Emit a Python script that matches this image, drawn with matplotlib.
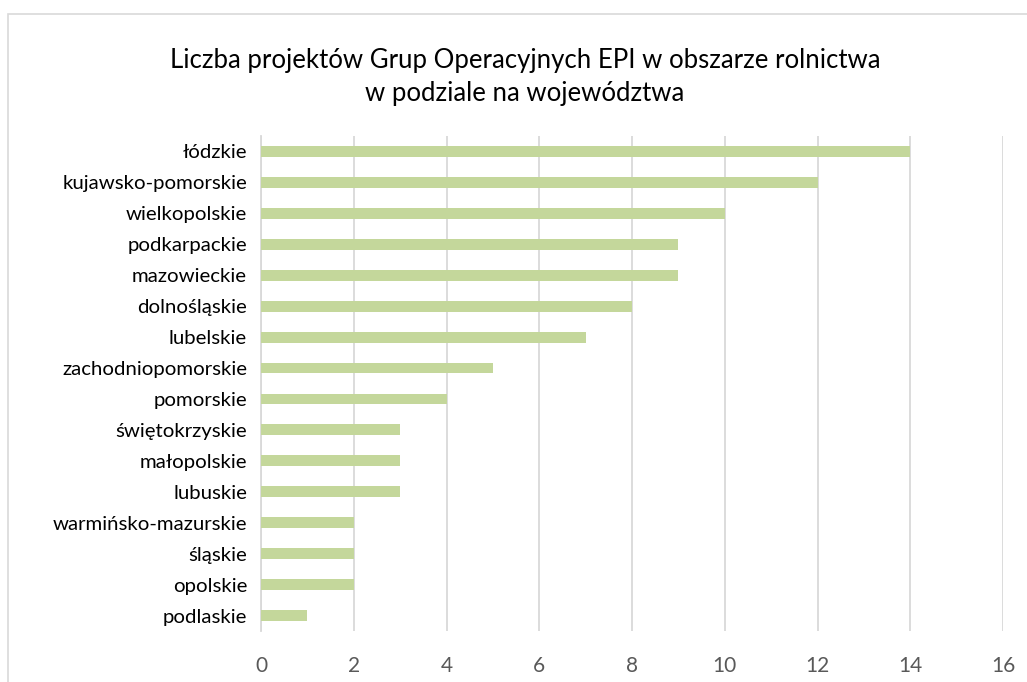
import matplotlib
matplotlib.use("Agg")
import matplotlib.pyplot as plt
from matplotlib.patches import Rectangle

categories = ["łódzkie", "kujawsko-pomorskie", "wielkopolskie", "podkarpackie",
              "mazowieckie", "dolnośląskie", "lubelskie", "zachodniopomorskie",
              "pomorskie", "świętokrzyskie", "małopolskie", "lubuskie",
              "warmińsko-mazurskie", "śląskie", "opolskie", "podlaskie"]
values = [14, 12, 10, 9, 9, 8, 7, 5, 4, 3, 3, 3, 2, 2, 2, 1]
xticks = [0, 2, 4, 6, 8, 10, 12, 14, 16]
title = "Liczba projektów Grup Operacyjnych EPI w obszarze rolnictwa\nw podziale na województwa"

plt.rcParams['font.family'] = ['Lato', 'DejaVu Sans']

fig = plt.figure(figsize=(10.27, 6.82), dpi=100)
fig.patches.append(Rectangle((7.5/1027, -0.1), 1.2, (682-14)/682 + 0.1,
                             transform=fig.transFigure, fill=False,
                             edgecolor='#D9D9D9', linewidth=1.2))
ax = fig.add_axes([261/1027, 1-631/682, (1003-261)/1027, (631-136)/682])

y = list(range(len(categories)))
ax.barh(y, values, height=0.35, color='#C4D79B', zorder=3)
ax.set_ylim(len(categories) - 0.5, -0.5)
ax.set_xlim(0, 16)
ax.set_xticks(xticks)
ax.set_xticklabels([str(t) for t in xticks], color='#595959', fontsize=15)
ax.set_yticks(y)
ax.set_yticklabels(categories, color='#000000', fontsize=14.7)
ax.tick_params(axis='both', length=0)
ax.tick_params(axis='x', pad=18)
ax.tick_params(axis='y', pad=10)
ax.grid(axis='x', color='#D9D9D9', linewidth=1.3, zorder=0)
for s in ['top', 'right', 'bottom']:
    ax.spines[s].set_visible(False)
ax.spines['left'].set_color('#D9D9D9')
ax.spines['left'].set_linewidth(1.3)

fig.text(525/1027, 1-77/682, title, ha='center', va='center', fontsize=18.5,
         color='#000000', linespacing=1.4)

fig.savefig("out.png", dpi=100)
